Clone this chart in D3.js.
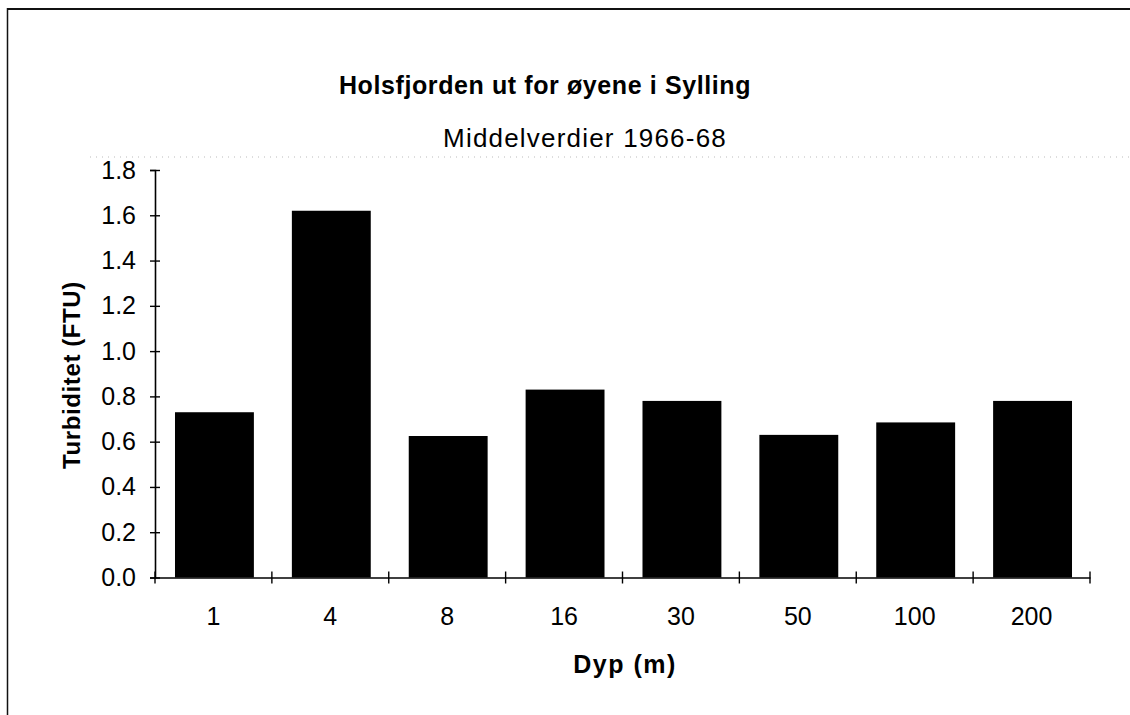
<!DOCTYPE html>
<html>
<head>
<meta charset="utf-8">
<script src="https://cdn.jsdelivr.net/npm/d3@7"></script>
<style>
  html, body { margin: 0; padding: 0; background: #fff; }
  svg { display: block; }
  text { font-family: "Liberation Sans", Arial, sans-serif; fill: #000; }
</style>
</head>
<body>
<script>
const categories = ["1", "4", "8", "16", "30", "50", "100", "200"];
const values = [0.73, 1.62, 0.625, 0.83, 0.78, 0.63, 0.685, 0.78];
const yTicks = [0.0, 0.2, 0.4, 0.6, 0.8, 1.0, 1.2, 1.4, 1.6, 1.8];
const title = "Holsfjorden ut for øyene i Sylling";
const subtitle = "Middelverdier 1966-68";
const xTitle = "Dyp (m)";
const yTitle = "Turbiditet (FTU)";

(function () {
const W = 1130, H = 715;
const svg = d3.select("body").append("svg").attr("width", W).attr("height", H);

// frame (top and left edges visible)
svg.append("line").attr("x1", 7.5).attr("x2", W).attr("y1", 9).attr("y2", 9)
  .attr("stroke", "#111").attr("stroke-width", 2);
svg.append("line").attr("x1", 7.5).attr("x2", 7.5).attr("y1", 8).attr("y2", H)
  .attr("stroke", "#111").attr("stroke-width", 1.5);
// faint dotted scan line
svg.append("line").attr("x1", 90).attr("x2", W).attr("y1", 157).attr("y2", 157)
  .attr("stroke", "#bbb").attr("stroke-width", 1).attr("stroke-dasharray", "1,5");

const mLeft = 155, mRight = 1090, mTop = 170, mBottom = 577.5;
const x = d3.scaleBand().domain(categories).range([mLeft, mRight]).padding(0);
const y = d3.scaleLinear().domain([0, 1.8]).range([mBottom, mTop]);

const barFrac = 0.675;
svg.append("g").selectAll("rect").data(values).join("rect")
  .attr("x", (d, i) => x(categories[i]) + x.bandwidth() * (1 - barFrac) / 2 + 1)
  .attr("width", x.bandwidth() * barFrac)
  .attr("y", d => y(d))
  .attr("height", d => y(0) - y(d))
  .attr("fill", "#000");

// y axis
const yAxis = svg.append("g").attr("transform", `translate(${mLeft},0)`)
  .call(d3.axisLeft(y).tickValues(yTicks).tickFormat(d3.format(".1f")).tickSize(5).tickPadding(14));
yAxis.select(".domain").attr("stroke", "#000").attr("stroke-width", 1.6);
yAxis.selectAll(".tick line").attr("x2", 5).attr("x1", -5).attr("stroke", "#000").attr("stroke-width", 1.4);
yAxis.selectAll(".tick text").attr("font-size", 25).attr("font-family", "Liberation Sans");

// x axis
const xAxis = svg.append("g").attr("transform", `translate(0,${mBottom})`)
  .call(d3.axisBottom(x).tickSize(0).tickPadding(30));
xAxis.select(".domain").attr("stroke", "#000").attr("stroke-width", 1.6);
xAxis.selectAll(".tick text").attr("font-size", 25).attr("font-family", "Liberation Sans");
// tick marks at band boundaries
const boundaries = categories.map(c => x(c)).concat([x(categories[categories.length - 1]) + x.bandwidth()]);
svg.append("g").selectAll("line").data(boundaries).join("line")
  .attr("x1", d => d).attr("x2", d => d)
  .attr("y1", mBottom - 6).attr("y2", mBottom + 6)
  .attr("stroke", "#000").attr("stroke-width", 1.4);

// titles
svg.append("text").attr("x", 545).attr("y", 94).attr("text-anchor", "middle")
  .attr("font-size", 25).attr("letter-spacing", 0.6).attr("font-weight", "bold").text(title);
svg.append("text").attr("x", 585).attr("y", 147).attr("text-anchor", "middle")
  .attr("font-size", 26).attr("letter-spacing", 1.2).text(subtitle);
svg.append("text").attr("x", 625).attr("y", 673).attr("text-anchor", "middle")
  .attr("font-size", 25).attr("letter-spacing", 1.5).attr("font-weight", "bold").text(xTitle);
svg.append("text").attr("transform", "translate(80,375) rotate(-90)").attr("text-anchor", "middle")
  .attr("font-size", 24).attr("letter-spacing", 0.6).attr("font-weight", "bold").text(yTitle);
})();
</script>
</body>
</html>
